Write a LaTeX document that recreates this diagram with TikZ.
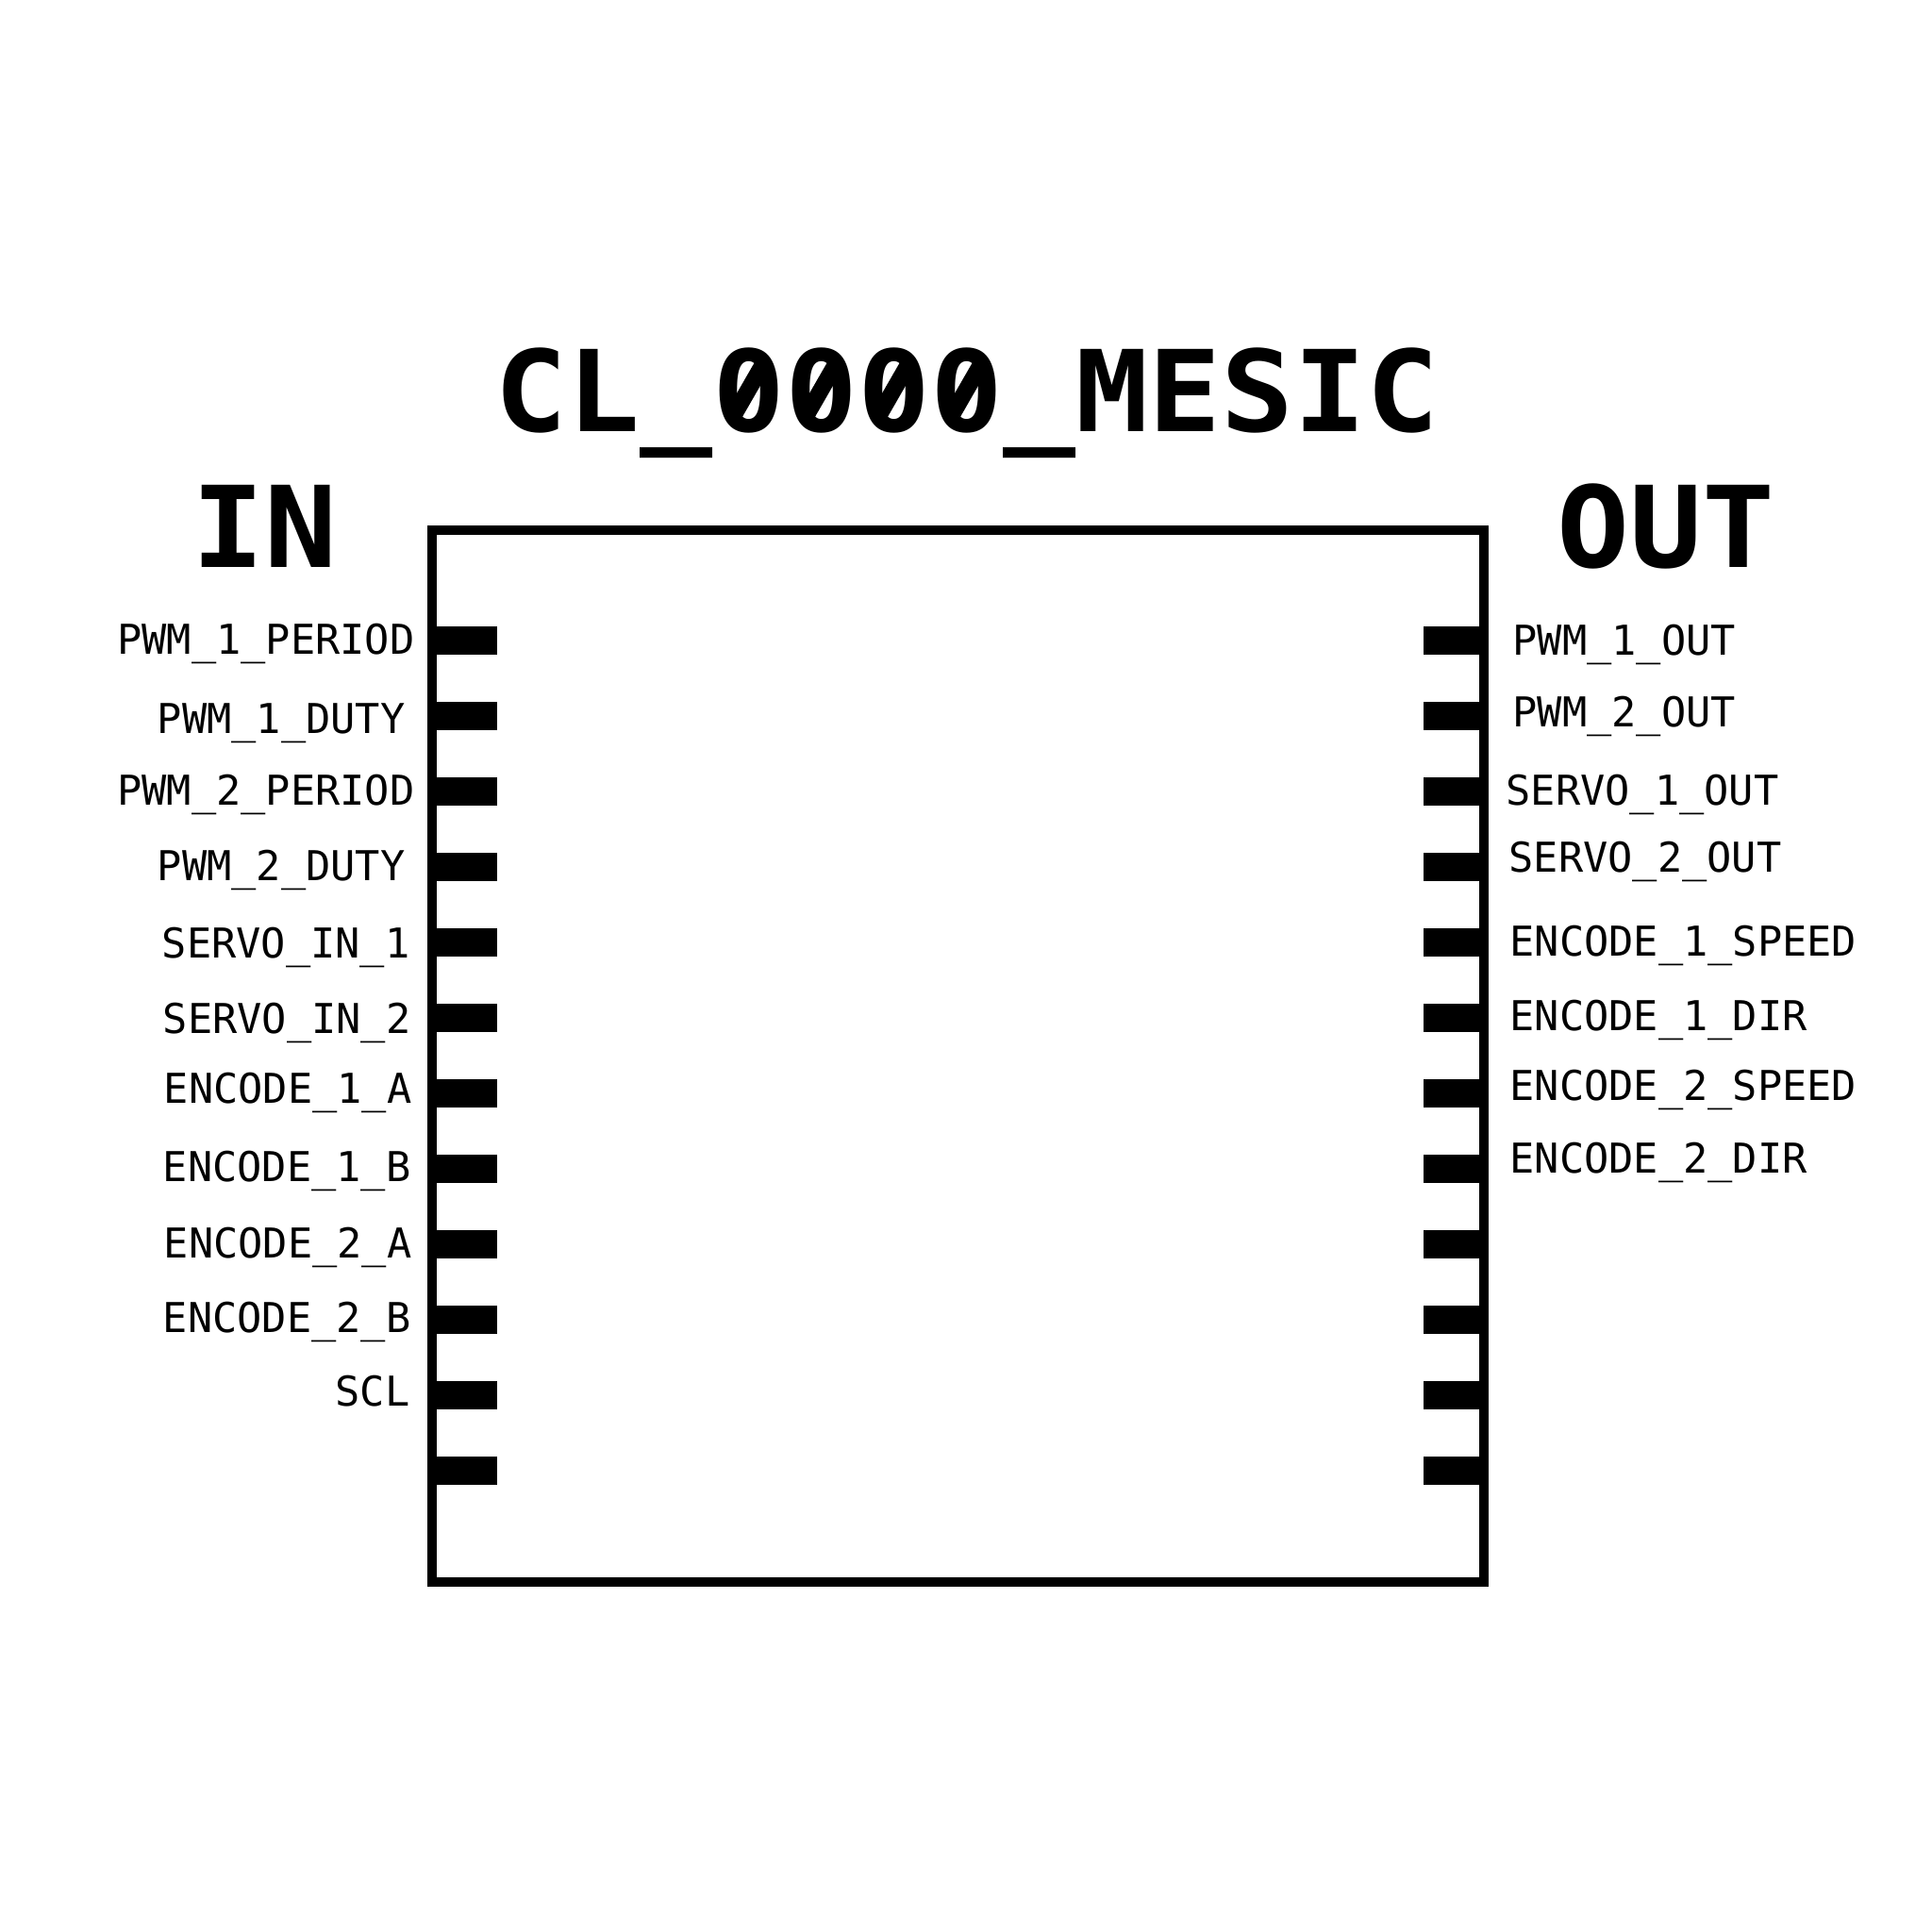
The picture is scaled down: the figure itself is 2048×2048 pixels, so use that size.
\documentclass[tikz,border=0pt]{standalone}
\usepackage{fontspec}
\setmonofont{DejaVu Sans Mono}
\newfontfamily\headfont{DejaVu Sans Mono}[FakeStretch=1.07]
\begin{document}
\begin{tikzpicture}[x=0.01cm,y=-0.01cm,
    pinname/.style={font=\ttfamily\fontsize{12.4}{14}\selectfont,inner sep=0pt},
    header/.style={font=\headfont\bfseries\fontsize{34}{40}\selectfont,inner sep=0pt}]
  \useasboundingbox (0,0) rectangle (2048,2048);
  \node[draw,line width=1mm,minimum width=11.15cm,minimum height=11.15cm,inner sep=0pt] (chip) at (1015.5,1119.5) {};
  \foreach \i in {0,...,11} {
    \fill (458,664+80*\i) rectangle (527,694+80*\i);
    \fill (1509,664+80*\i) rectangle (1573,694+80*\i);
  }
  \node[header,anchor=base] (title) at (1025,457) {CL\_0000\_MESIC};
  % slashed zeros
  \foreach \k in {3,...,6}
    \draw[line width=5pt] ([shift={({(\k+0.5)*21.9pt+4.2pt},{19.7pt})}]title.base west)
      -- ([shift={({(\k+0.5)*21.9pt-4.2pt},{5.1pt})}]title.base west);
  \node[header,anchor=base] (inhead) at (281,601) {IN};
  \node[header,anchor=base] (outhead) at (1766,601) {OUT};
  \foreach \n/\name/\x/\y in {a/PWM\_1\_PERIOD/440/693, b/PWM\_1\_DUTY/430/777, c/PWM\_2\_PERIOD/440/853,
      d/PWM\_2\_DUTY/430/933, e/SERVO\_IN\_1/435/1015, f/SERVO\_IN\_2/436/1095, g/ENCODE\_1\_A/437/1169,
      h/ENCODE\_1\_B/436/1252, i/ENCODE\_2\_A/437/1333, j/ENCODE\_2\_B/436/1412, k/SCL/435/1490} {
    \node[pinname,anchor=base east] (in-\n) at (\x,\y) {\name};
  }
  \foreach \n/\name/\x/\y in {a/PWM\_1\_OUT/1603/694, b/PWM\_2\_OUT/1603/770, c/SERVO\_1\_OUT/1596/853,
      d/SERVO\_2\_OUT/1599/924, e/ENCODE\_1\_SPEED/1600/1013, f/ENCODE\_1\_DIR/1600/1092,
      g/ENCODE\_2\_SPEED/1600/1166, h/ENCODE\_2\_DIR/1600/1243} {
    \node[pinname,anchor=base west] (out-\n) at (\x,\y) {\name};
  }
\end{tikzpicture}
\end{document}
